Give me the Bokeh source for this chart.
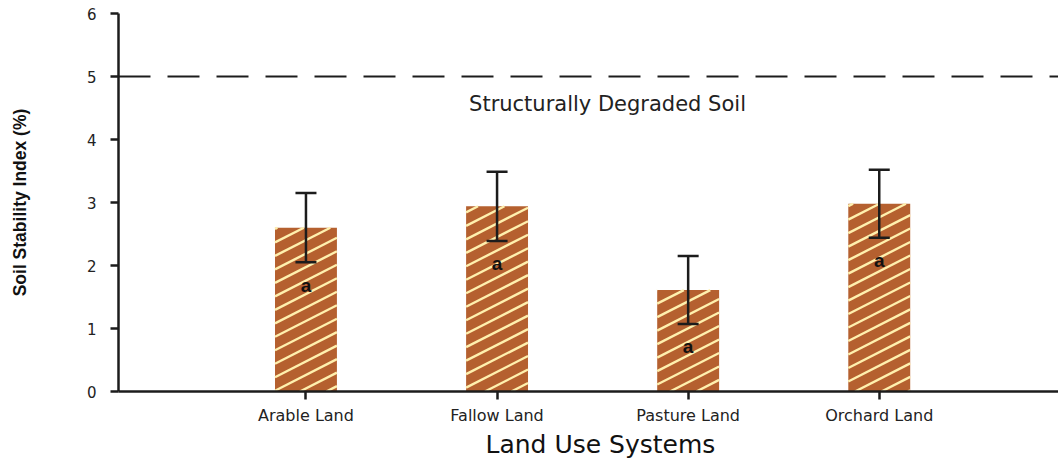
import numpy as np
from bokeh.plotting import figure
from bokeh.models import ColumnDataSource, Whisker, Span, Label, FixedTicker, TeeHead, Range1d, Title
from bokeh.core.properties import value
from bokeh.embed import file_html
from bokeh.resources import INLINE

# Soil stability index per land use system (mean and standard error)
land_uses = ["Arable Land", "Fallow Land", "Pasture Land", "Orchard Land"]
ssi_mean = [2.60, 2.94, 1.61, 2.98]
ssi_se = [0.55, 0.55, 0.54, 0.54]
group_letters = ["a", "a", "a", "a"]

threshold = 5.0
threshold_label = "Structurally Degraded Soil"
x_title = "Land Use Systems"
y_title = "Soil Stability Index (%)"
y_ticks = [0, 1, 2, 3, 4, 5, 6]

BAR_COLOR = "#B5602F"
HATCH_COLOR = "#FFF0AE"
INK = "#1c1c1c"
TICK_FONT = "DejaVu Sans"

x_pos = list(range(1, len(land_uses) + 1))
bar_width = 0.324

src = ColumnDataSource(dict(
    x=x_pos,
    top=ssi_mean,
    upper=[m + s for m, s in zip(ssi_mean, ssi_se)],
    lower=[m - s for m, s in zip(ssi_mean, ssi_se)],
    letter=group_letters,
    letter_y=[m - s - 0.36 for m, s in zip(ssi_mean, ssi_se)],
))

p = figure(width=1058, height=459, output_backend="svg", toolbar_location=None,
           x_range=Range1d(0.019, 4.938), y_range=Range1d(0, 6),
           min_border_left=118, min_border_right=0, min_border_top=13, min_border_bottom=68)
p.outline_line_color = None
p.xgrid.visible = False
p.ygrid.visible = False
p.background_fill_color = "white"
p.border_fill_color = "white"

# bars
p.vbar(x="x", top="top", width=bar_width, bottom=0, source=src,
       fill_color=BAR_COLOR, line_color=None)

# diagonal hatching drawn inside each bar
def hatch_segments(centers, tops, width, slope, step):
    xs0, ys0, xs1, ys1 = [], [], [], []
    for c, h in zip(centers, tops):
        left, right = c - width / 2, c + width / 2
        bmin = -slope * right
        bmax = h - slope * left
        for b in np.arange(np.floor(bmin / step) * step, bmax + step, step):
            xa = max(left, (0 - b) / slope)
            xb = min(right, (h - b) / slope)
            if xb > xa:
                xs0.append(xa); ys0.append(slope * xa + b)
                xs1.append(xb); ys1.append(slope * xb + b)
    return xs0, ys0, xs1, ys1

hx0, hy0, hx1, hy1 = hatch_segments(x_pos, ssi_mean, bar_width, 1.547, 0.214)
p.segment(x0=hx0, y0=hy0, x1=hx1, y1=hy1, line_color=HATCH_COLOR, line_width=2.4)

# error bars, drawn above the bars
head_kw = dict(size=21, line_width=2.5, line_color=INK)
p.add_layout(Whisker(base="x", upper="upper", lower="lower", source=src,
                     level="annotation", line_width=2.5, line_color=INK,
                     upper_head=TeeHead(**head_kw), lower_head=TeeHead(**head_kw)))

# significance letters
p.text(x="x", y="letter_y", text="letter", source=src,
       text_font=value("Liberation Sans"), text_font_style="bold",
       text_font_size="19px", text_color="#111111",
       text_align="center", text_baseline="middle")

# degradation threshold
p.add_layout(Span(location=threshold, dimension="width", line_color=INK,
                  line_width=2, line_dash="32 17"))
p.add_layout(Label(x=2.578, y=4.556, text=threshold_label,
                   text_font=TICK_FONT, text_font_size="21px", text_color="#222222",
                   text_align="center", text_baseline="middle"))

# axes
p.yaxis.ticker = FixedTicker(ticks=y_ticks)
p.yaxis.axis_label = y_title
p.yaxis.axis_label_text_font = "Liberation Sans"
p.yaxis.axis_label_text_font_style = "bold"
p.yaxis.axis_label_text_font_size = "17.5px"
p.yaxis.axis_label_text_color = "#111111"
p.yaxis.axis_label_standoff = 54

p.xaxis.ticker = FixedTicker(ticks=x_pos)
p.xaxis.major_label_overrides = {i: name for i, name in zip(x_pos, land_uses)}

for ax in (p.xaxis, p.yaxis):
    ax.axis_line_color = INK
    ax.axis_line_width = 2.5
    ax.major_tick_line_color = INK
    ax.major_tick_line_width = 2.5
    ax.major_tick_out = 8
    ax.major_tick_in = 0
    ax.minor_tick_line_color = None
    ax.major_label_text_font = TICK_FONT
    ax.major_label_text_color = "#222222"

p.yaxis.major_label_text_font_size = "15px"
p.xaxis.major_label_text_font_size = "16px"
p.yaxis.major_label_standoff = 14
p.xaxis.major_label_standoff = 6

# x-axis title as a title panel under the axis
p.add_layout(Title(text=x_title, align="left", offset=367, standoff=1,
                   text_font=TICK_FONT, text_font_size="25px",
                   text_font_style="normal", text_color="#111111"), "below")

open("out.html", "w").write(file_html(p, INLINE))
